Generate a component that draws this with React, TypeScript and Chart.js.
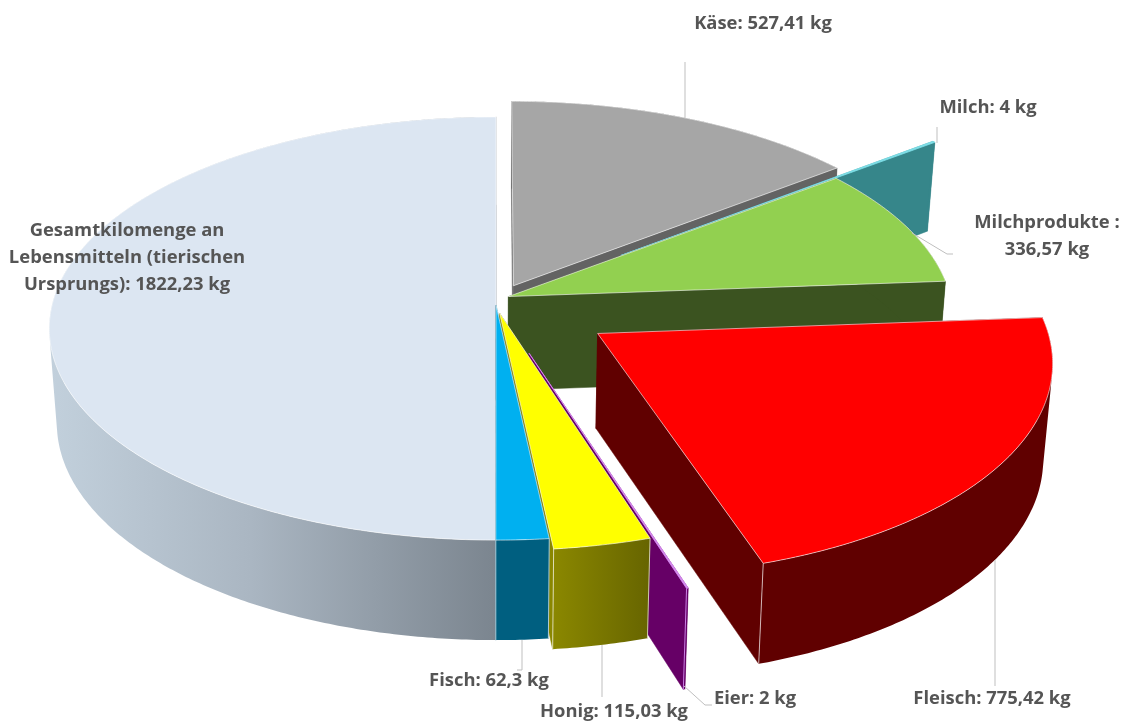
import React, { useEffect, useRef } from "react";
import { Chart, registerables } from "chart.js";

Chart.register(...registerables);

const categories = ["Käse", "Milch", "Milchprodukte", "Fleisch", "Eier", "Honig", "Fisch", "Gesamtkilomenge an Lebensmitteln (tierischen Ursprungs)"];
const values = [527.41, 4, 336.57, 775.42, 2, 115.03, 62.3, 1822.23];
const explode = [0.09, 0.365, 0.03, 0.272, 0.24, 0.04, 0, 0];
const lift = [0.012, 0.02, 0.03, 0.018, 0.004, 0, 0, 0];
const topColors = ["#a6a6a6", "#7fdfe8", "#92d050", "#ff0000", "#d58cf0", "#ffff00", "#00b0f0", "#dce6f2"];
const wallColors = ["#636363", "#36868a", "#3b5320", "#600000", "#660066", "#757300", "#005f80", "#a0adb9"];

const AX = 496, AY = 305, RX = 444, K = 209, P = 0.111;

type V = [number, number];
function proj(u: number, v: number, low: boolean): V {
  const w = 1 - P * v;
  const s = low ? 0.983 : 1;
  const d = low ? 94 + 6 * v : 0;
  return [AX + (RX * u * s) / w, AY + (K * v) / w + d];
}

const labels: { lines: string[]; x: number; y: number }[] = [
  { lines: ["Käse: 527,41 kg"], x: 763, y: 24 },
  { lines: ["Milch: 4 kg"], x: 988, y: 108 },
  { lines: ["Milchprodukte :", "336,57 kg"], x: 1047, y: 223 },
  { lines: ["Fleisch: 775,42 kg"], x: 992, y: 699 },
  { lines: ["Eier: 2 kg"], x: 755, y: 699 },
  { lines: ["Honig: 115,03 kg"], x: 614, y: 712 },
  { lines: ["Fisch: 62,3 kg"], x: 489, y: 681 },
  { lines: ["Gesamtkilomenge an", "Lebensmitteln (tierischen", "Ursprungs): 1822,23 kg"], x: 127, y: 231 },
];
const leaders: V[][] = [
  [[685, 62], [685, 118]],
  [[937, 127], [937, 143]],
  [[912, 233], [947, 254], [953, 254]],
  [[995, 560], [995, 686]],
  [[684, 686], [705, 705], [712, 705]],
  [[602, 645], [602, 697]],
  [[522, 640], [522, 670], [517, 670]],
];

const pie3d = {
  id: "pie3d",
  beforeDatasetsDraw(chart: any) {
    const ctx: CanvasRenderingContext2D = chart.ctx;
    const arcs = chart.getDatasetMeta(0).data;
    const slices = arcs.map((arc: any, i: number) => {
      const { startAngle, endAngle } = arc.getProps(["startAngle", "endAngle"], true);
      const mid = (startAngle + endAngle) / 2;
      return { i, startAngle, endAngle, dx: Math.cos(mid) * explode[i], dy: Math.sin(mid) * explode[i] - lift[i], sortV: Math.sin(mid) };
    });
    slices.sort((a: any, b: any) => a.sortV - b.sortV);
    const poly = (pts: V[], fill: string | CanvasGradient, stroke: string | CanvasGradient, width: number) => {
      ctx.beginPath();
      pts.forEach((p, n) => (n ? ctx.lineTo(p[0], p[1]) : ctx.moveTo(p[0], p[1])));
      ctx.closePath();
      ctx.fillStyle = fill;
      ctx.fill();
      ctx.strokeStyle = stroke;
      ctx.lineWidth = width;
      ctx.stroke();
    };
    const edge = (a: V, b: V, color: string) => {
      ctx.beginPath();
      ctx.moveTo(a[0], a[1]);
      ctx.lineTo(b[0], b[1]);
      ctx.strokeStyle = color;
      ctx.lineWidth = 0.9;
      ctx.stroke();
    };
    const WHITE = "rgba(255,255,255,0.75)";
    for (const s of slices) {
      const n = Math.max(2, Math.ceil((s.endAngle - s.startAngle) / 0.01));
      const rimTop: V[] = [], rimLow: V[] = [];
      for (let j = 0; j <= n; j++) {
        const a = s.startAngle + ((s.endAngle - s.startAngle) * j) / n;
        const u = Math.cos(a) + s.dx, v = Math.sin(a) + s.dy;
        rimTop.push(proj(u, v, false));
        rimLow.push(proj(u, v, true));
      }
      const apexTop = proj(s.dx, s.dy, false), apexLow = proj(s.dx, s.dy, true);
      let wall: string | CanvasGradient = wallColors[s.i];
      if (s.i === 7) {
        const g = ctx.createLinearGradient(50, 0, 496, 0);
        g.addColorStop(0, "#c2d0dc");
        g.addColorStop(0.45, "#aab6c2");
        g.addColorStop(1, "#7b858f");
        wall = g;
      } else if (s.i === 5) {
        const g = ctx.createLinearGradient(555, 0, 652, 0);
        g.addColorStop(0, "#8a8700");
        g.addColorStop(1, "#666400");
        wall = g;
      }
      const cut0 = s.i === 5 ? "#666400" : wall;
      const cutN = s.i === 5 ? "#8a8700" : wall;
      poly([apexTop, rimTop[0], rimLow[0], apexLow], cut0, cut0, 0.5);
      poly([apexTop, rimTop[n], rimLow[n], apexLow], cutN, cutN, 0.5);
      // outer wall: one path of same-winding quads so no seams appear
      ctx.beginPath();
      for (let j = 0; j < n; j++) {
        let q: V[] = [rimTop[j], rimTop[j + 1], rimLow[j + 1], rimLow[j]];
        let area = 0;
        q.forEach((p, k) => {
          const r = q[(k + 1) % 4];
          area += p[0] * r[1] - r[0] * p[1];
        });
        if (area < 0) q = q.slice().reverse();
        q.forEach((p, k) => (k ? ctx.lineTo(p[0], p[1]) : ctx.moveTo(p[0], p[1])));
        ctx.closePath();
      }
      ctx.fillStyle = wall;
      ctx.fill("nonzero");
      if (s.i === 3 || s.i === 5 || s.i === 6 || s.i === 7) edge(rimTop[n], rimLow[n], WHITE);
      if (s.i === 5 || s.i === 6) edge(rimTop[0], rimLow[0], WHITE);
      if (s.i === 4) edge(rimTop[n], rimLow[n], topColors[4]);
      const thin = s.i === 1 || s.i === 4;
      poly([apexTop, ...rimTop], topColors[s.i], thin ? topColors[s.i] : WHITE, 0.8);
    }
    return false;
  },
  afterDraw(chart: any) {
    const ctx: CanvasRenderingContext2D = chart.ctx;
    ctx.strokeStyle = "#bfbfbf";
    ctx.lineWidth = 1;
    for (const l of leaders) {
      ctx.beginPath();
      l.forEach((p, n) => (n ? ctx.lineTo(p[0], p[1]) : ctx.moveTo(p[0], p[1])));
      ctx.stroke();
    }
    ctx.fillStyle = "#555555";
    ctx.font = "bold 18.4px 'Open Sans'";
    ctx.textAlign = "center";
    ctx.textBaseline = "middle";
    for (const l of labels) l.lines.forEach((t, n) => ctx.fillText(t, l.x, l.y + n * 27));
  },
};

export default function App() {
  const ref = useRef<HTMLCanvasElement>(null);
  useEffect(() => {
    document.body.style.margin = "0";
    document.body.style.overflow = "hidden";
    const chart = new Chart(ref.current!, {
      type: "pie",
      data: { labels: categories, datasets: [{ data: values, backgroundColor: topColors, borderWidth: 0 }] },
      options: {
        responsive: false,
        animation: false,
        events: [],
        layout: { padding: 0 },
        plugins: { legend: { display: false }, tooltip: { enabled: false } },
      },
      plugins: [pie3d],
    } as any);
    return () => chart.destroy();
  }, []);
  return <canvas ref={ref} width={1127} height={722} style={{ display: "block" }} />;
}
